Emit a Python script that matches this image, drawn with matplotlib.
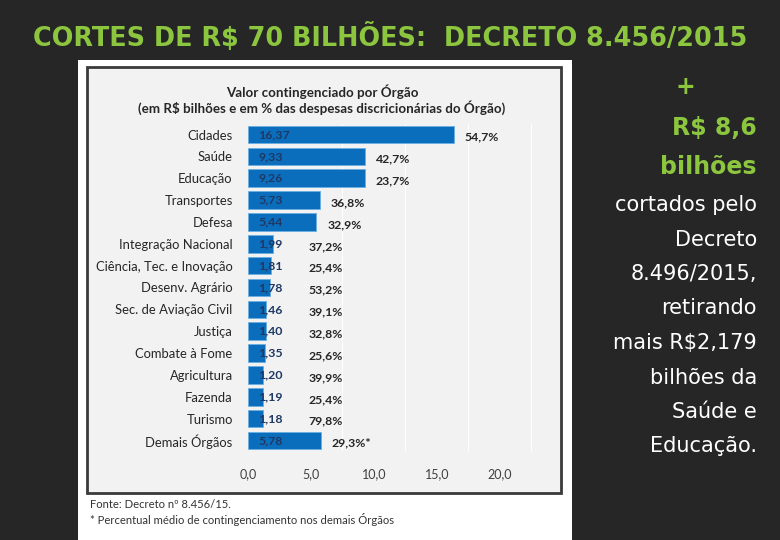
import matplotlib
matplotlib.use('Agg')
import matplotlib.pyplot as plt
from matplotlib.patches import Rectangle

# data
orgaos = ['Cidades', 'Saúde', 'Educação', 'Transportes', 'Defesa',
          'Integração Nacional', 'Ciência, Tec. e Inovação', 'Desenv. Agrário',
          'Sec. de Aviação Civil', 'Justiça', 'Combate à Fome', 'Agricultura',
          'Fazenda', 'Turismo', 'Demais Órgãos']
valores = [16.37, 9.33, 9.26, 5.73, 5.44, 1.99, 1.81, 1.78, 1.46, 1.40,
           1.35, 1.20, 1.19, 1.18, 5.78]
percentuais = [54.7, 42.7, 23.7, 36.8, 32.9, 37.2, 25.4, 53.2, 39.1, 32.8,
               25.6, 39.9, 25.4, 79.8, 29.3]
xticks = [0, 5, 10, 15, 20]

W, H = 780, 540
BG = '#262626'
GREEN = '#8cc63f'
BLUE = '#0a6ebd'


def fx(px):
    return px / W


def fy(py):
    return 1 - py / H


def br(v, nd):
    return f'{v:.{nd}f}'.replace('.', ',')


fig = plt.figure(figsize=(7.8, 5.4), dpi=100)
fig.patch.set_facecolor(BG)

# white picture area and framed chart box
fig.patches.append(Rectangle((fx(78), fy(540)), fx(572) - fx(78), fy(60) - fy(540),
                             transform=fig.transFigure, facecolor='white',
                             edgecolor='none', zorder=0))
fig.patches.append(Rectangle((fx(87), fy(493)), fx(561) - fx(87), fy(67) - fy(493),
                             transform=fig.transFigure, facecolor='#f2f2f2',
                             edgecolor='#3a3a3a', linewidth=2, zorder=0))

fig.text(0.5, fy(37), 'CORTES DE R$ 70 BILHÕES:  DECRETO 8.456/2015',
         ha='center', va='center', color=GREEN, fontsize=18.4, fontweight='bold')

cf = 'Lato'
fig.text(fx(322), fy(92), 'Valor contingenciado por Órgão', ha='center', va='center',
         fontsize=9.6, fontweight='bold', color='#262626', family=cf)
fig.text(fx(322), fy(108), '(em R$ bilhões e em % das despesas discricionárias do Órgão)',
         ha='center', va='center', fontsize=9.6, fontweight='bold', color='#262626', family=cf)

ax = fig.add_axes([fx(248), fy(451.4), fx(550) - fx(248), fy(123.6) - fy(451.4)])
ax.set_zorder(2)
ax.set_facecolor('none')
y = list(range(len(orgaos)))
ax.barh(y, valores, height=0.8, color=BLUE, edgecolor='#6aaee3', linewidth=0.6, zorder=3)
for g in [7.5, 12.5, 17.5, 22.5]:
    ax.axvline(g, color='white', linewidth=0.8, zorder=1)

for i, (v, p) in enumerate(zip(valores, percentuais)):
    ax.text(0.8, i, br(v, 2), ha='left', va='center', fontsize=8.9, fontweight='bold',
            color='#1f3864', family=cf, zorder=4)
    lab = br(p, 1) + '%' + ('*' if orgaos[i] == 'Demais Órgãos' else '')
    ax.text(max(v + 0.85, 4.8), i + 0.12, lab, ha='left', va='center', fontsize=8.8,
            fontweight='bold', color='#262626', family=cf, zorder=4)

ax.set_xlim(0, 24)
ax.set_ylim(len(orgaos) - 0.5, -0.5)
ax.set_yticks(y)
ax.set_yticklabels(orgaos, family=cf, fontsize=9.4, color='#262626')
ax.set_xticks(xticks)
ax.set_xticklabels([br(t, 1) for t in xticks], family=cf, fontsize=9, color='#404040')
ax.tick_params(axis='y', length=0, pad=11)
ax.tick_params(axis='x', length=0, pad=12)
for s in ax.spines.values():
    s.set_visible(False)

fig.text(fx(90), fy(505), 'Fonte: Decreto nº 8.456/15.', ha='left', va='center',
         fontsize=8.1, color='#333333', family=cf)
fig.text(fx(90), fy(520), '* Percentual médio de contingenciamento nos demais Órgãos',
         ha='left', va='center', fontsize=8.1, color='#333333', family=cf)

# right-hand text
fig.text(fx(685), fy(87), '+', ha='center', va='center', color=GREEN,
         fontsize=17, fontweight='bold')
fig.text(fx(757), fy(128), 'R$ 8,6', ha='right', va='center', color=GREEN,
         fontsize=17, fontweight='bold')
fig.text(fx(757), fy(167), 'bilhões', ha='right', va='center', color=GREEN,
         fontsize=17, fontweight='bold')
linhas = ['cortados pelo', 'Decreto', '8.496/2015,', 'retirando', 'mais R$2,179',
          'bilhões da', 'Saúde e', 'Educação.']
for k, t in enumerate(linhas):
    fig.text(fx(757), fy(205 + 34.5 * k), t, ha='right', va='center', color='white',
             fontsize=15)

fig.savefig('out.png', dpi=100, facecolor=BG)
